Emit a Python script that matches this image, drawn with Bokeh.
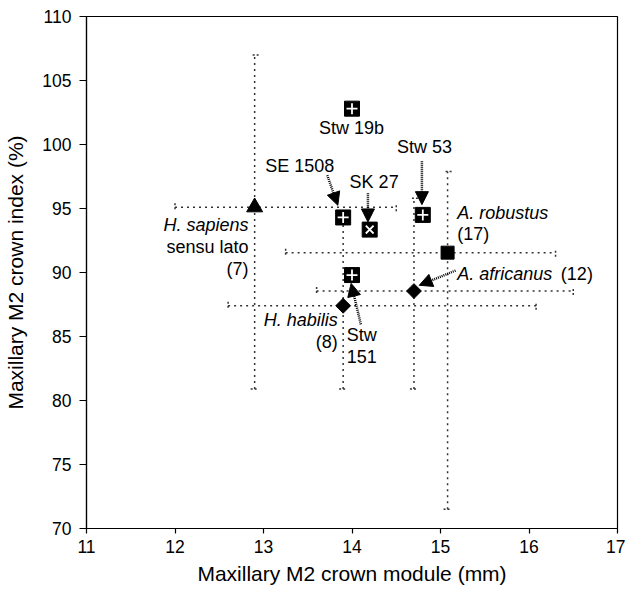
import math
from bokeh.plotting import figure
from bokeh.models import ColumnDataSource, Whisker, TeeHead, Arrow, NormalHead, Range1d, FixedTicker
from bokeh.core.properties import value
from bokeh.embed import file_html
from bokeh.resources import INLINE

FONT = "Liberation Sans"

# Group means with observed ranges (min-max) for each taxon
groups = ["H. sapiens", "H. habilis", "A. africanus", "A. robustus"]
group_x = [12.9, 13.9, 14.7, 15.08]
group_y = [95.1, 87.4, 88.55, 91.55]
x_min = [12.0, 12.6, 13.6, 13.25]
x_max = [14.5, 16.08, 16.5, 16.3]
y_min = [80.9, 80.9, 80.9, 71.5]
y_max = [107.0, 94.3, 95.8, 97.9]

# Individual specimens
specimens = ["Stw 19b", "SE 1508", "SK 27", "Stw 53", "Stw 151"]
spec_x = [14.0, 13.9, 14.2, 14.8, 14.0]
spec_y = [102.8, 94.3, 93.35, 94.5, 89.8]

x_ticks = [11, 12, 13, 14, 15, 16, 17]
y_ticks = [70, 75, 80, 85, 90, 95, 100, 105, 110]

p = figure(width=625, height=594, output_backend="svg", toolbar_location=None,
           x_range=Range1d(11, 17), y_range=Range1d(70, 110),
           min_border_left=86, min_border_right=8, min_border_top=16, min_border_bottom=66)
p.background_fill_color = "white"
p.border_fill_color = "white"
p.xgrid.visible = False
p.ygrid.visible = False
p.outline_line_color = "black"
p.outline_line_width = 1.2

for ax in (p.xaxis, p.yaxis):
    ax.axis_line_color = "black"
    ax.axis_line_width = 1.2
    ax.major_tick_line_color = "black"
    ax.major_tick_line_width = 1.2
    ax.minor_tick_line_color = None
    ax.major_tick_in = 0
    ax.major_label_text_font = FONT
    ax.major_label_text_font_size = "17.5px"
    ax.major_label_text_color = "black"
    ax.axis_label_text_font = FONT
    ax.axis_label_text_font_size = "21px"
    ax.axis_label_text_font_style = "normal"
    ax.axis_label_text_color = "black"

p.xaxis.ticker = FixedTicker(ticks=x_ticks)
p.yaxis.ticker = FixedTicker(ticks=y_ticks)
p.xaxis.major_tick_out = 5
p.yaxis.major_tick_out = 7
p.xaxis.major_label_standoff = 6
p.yaxis.major_label_standoff = 8
p.xaxis.axis_label = "Maxillary M2 crown module (mm)"
p.yaxis.axis_label = "Maxillary M2 crown index (%)"
p.xaxis.axis_label_standoff = 6
p.yaxis.axis_label_standoff = 12

# Range bars (dotted, with short dotted caps)
src = ColumnDataSource(dict(x=group_x, y=group_y, xmin=x_min, xmax=x_max, ymin=y_min, ymax=y_max))
bar_style = dict(line_color="#333333", line_width=1.5, line_dash="2 4")
for dim, base, lo, hi in (("height", "x", "ymin", "ymax"), ("width", "y", "xmin", "xmax")):
    w = Whisker(source=src, base=base, lower=lo, upper=hi, dimension=dim,
                upper_head=TeeHead(size=8, line_color="#333333", line_width=1.5, line_dash="2 2"),
                lower_head=TeeHead(size=8, line_color="#333333", line_width=1.5, line_dash="2 2"),
                **bar_style)
    p.add_layout(w)

# Group markers
p.scatter([group_x[0]], [group_y[0]], marker="triangle", size=16, fill_color="black", line_color="black")
p.scatter(group_x[1:3], group_y[1:3], marker="square", size=10.5, angle=math.pi / 4,
          fill_color="black", line_color="black")
p.scatter([group_x[3]], [group_y[3]], marker="square", size=13, fill_color="black", line_color="black")

# Specimen markers: black squares with a white cross (or x for SK 27)
p.scatter(spec_x, spec_y, marker="square", size=15, fill_color="black", line_color="black")
plus_x = [spec_x[i] for i in (0, 1, 3, 4)]
plus_y = [spec_y[i] for i in (0, 1, 3, 4)]
p.scatter(plus_x, plus_y, marker="cross", size=11, line_color="white", line_width=1.8)
p.scatter([spec_x[2]], [spec_y[2]], marker="x", size=11, line_color="white", line_width=1.8)

# Pointer arrows
arrows = [
    (13.72, 97.6, 13.84, 95.25),   # SE 1508
    (14.18, 96.2, 14.18, 93.95),   # SK 27
    (14.79, 98.7, 14.79, 95.3),    # Stw 53
    (15.17, 90.15, 14.76, 89.0),   # A. africanus
    (14.1, 85.95, 13.99, 89.15),   # Stw 151
]
for xs, ys, xe, ye in arrows:
    p.add_layout(Arrow(x_start=xs, y_start=ys, x_end=xe, y_end=ye,
                       line_color="black", line_width=2.5, line_dash="1 1",
                       end=NormalHead(size=13, fill_color="black", line_color="black", line_width=1)))


def label(x, y, txt, align="center", style="normal"):
    p.text([x], [y], text=[txt], text_font=value(FONT), text_font_size="18px",
           text_font_style=style, text_align=align, text_baseline="middle", text_color="black")


label(13.995, 101.3, "Stw 19b")
label(13.41, 98.3, "SE 1508")
label(14.25, 97.1, "SK 27")
label(14.82, 99.8, "Stw 53")
label(15.19, 94.65, "A. robustus", "left", "italic")
label(15.19, 93.0, "(17)", "left")
label(15.19, 89.9, "A. africanus", "left", "italic")
label(16.36, 89.9, "(12)", "left")
label(13.84, 86.3, "H. habilis", "right", "italic")
label(13.84, 84.6, "(8)", "right")
label(13.94, 85.1, "Stw", "left")
label(13.94, 83.4, "151", "left")
label(12.83, 93.75, "H. sapiens", "right", "italic")
label(12.83, 92.0, "sensu lato", "right")
label(12.83, 90.24, "(7)", "right")

open("out.html", "w").write(file_html(p, INLINE))
